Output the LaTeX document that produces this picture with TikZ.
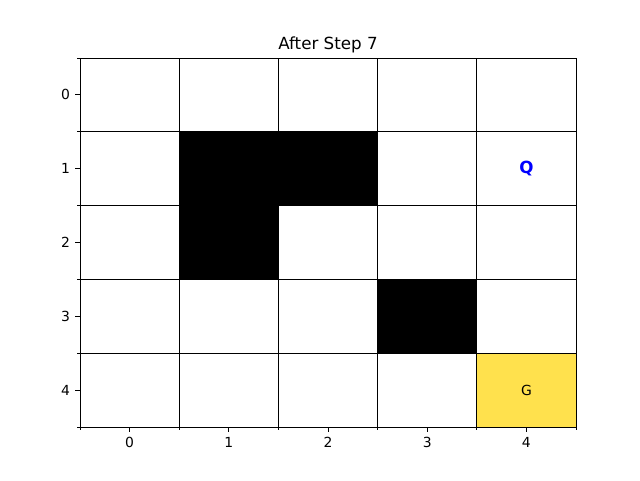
\documentclass[tikz,border=0pt]{standalone}
\usepackage{fontspec}
\setmainfont{DejaVu Sans}
\usetikzlibrary{positioning,calc}
\definecolor{goalyellow}{RGB}{255,225,77}
\definecolor{agentblue}{RGB}{0,0,255}

\begin{document}
\begin{tikzpicture}[x=1pt,y=-1pt]

 \tikzset{
   cell/.style={rectangle, draw=black, line width=1pt, fill=white, minimum width=99.2pt, minimum height=73.8pt, inner sep=0pt, outer sep=0pt},
   wall/.style={cell, fill=black},
   goal/.style={cell, fill=goalyellow},
   ticklabel/.style={font=\fontsize{13.9}{16}\selectfont, inner sep=0pt},
   majortick/.style={line width=1pt},
   minortick/.style={line width=0.8pt}
 }

 \useasboundingbox (0,0) rectangle (640,480);

 % Grid origin and cell size
 \def\xorig{80}
 \def\yorig{58}
 \def\cw{99.2}
 \def\ch{73.8}

 % Cells
 \foreach \r in {0,...,4}{
   \foreach \c in {0,...,4}{
     \node[cell] (cell-\r-\c) at ({\xorig+\cw*(\c+0.5)}, {\yorig+\ch*(\r+0.5)}) {};
   }
 }

 % Walls and goal
 \node[wall] (wall-a) at (cell-1-1) {};
 \node[wall] (wall-b) at (cell-1-2) {};
 \node[wall] (wall-c) at (cell-2-1) {};
 \node[wall] (wall-d) at (cell-3-3) {};
 \node[goal] (goal) at (cell-4-4) {};

 % Agent and goal labels
 \node[font=\fontsize{16.7}{18}\selectfont\bfseries, text=agentblue] (agent) at (cell-1-4) {Q};
 \node[ticklabel] (goal-label) at (cell-4-4) {G};

 % Minor ticks on cell edges
 \foreach \i in {0,...,5}{
   \draw[minortick] ({\xorig-2.8}, {\yorig+\ch*\i}) -- (\xorig, {\yorig+\ch*\i});
   \draw[minortick] ({\xorig+\cw*\i}, {\yorig+5*\ch}) -- ({\xorig+\cw*\i}, {\yorig+5*\ch+2.8});
 }

 % Major ticks and labels
 \foreach \i in {0,...,4}{
   \draw[majortick] ($(cell-\i-0.west)+(-4.9,0)$) -- (cell-\i-0.west);
   \node[ticklabel, anchor=east] (ylab-\i) at ($(cell-\i-0.west)+(-9.8,0)$) {\i};
   \draw[majortick] (cell-4-\i.south) -- ($(cell-4-\i.south)+(0,4.9)$);
   \node[ticklabel, anchor=north] (xlab-\i) at ($(cell-4-\i.south)+(0,9.8)$) {\i};
 }

 % Title
 \node[font=\fontsize{16.7}{19}\selectfont, anchor=base, inner sep=0pt] (title) at (328, 49.7) {After Step 7};

\end{tikzpicture}
\end{document}
